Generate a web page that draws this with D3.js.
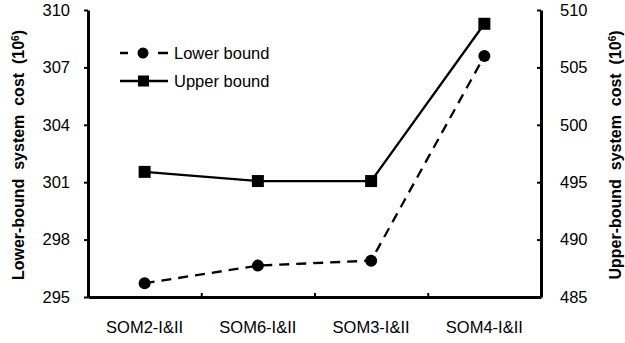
<!DOCTYPE html>
<html>
<head>
<meta charset="utf-8">
<script src="https://cdn.jsdelivr.net/npm/d3@7"></script>
<style>
  body { margin: 0; background: #fff; }
  svg { font-family: "Liberation Sans", Arial, sans-serif; }
</style>
</head>
<body>
<svg id="chart" width="625" height="343"></svg>
<script>
// data
const categories = ['SOM2-I&II', 'SOM6-I&II', 'SOM3-I&II', 'SOM4-I&II'];
const lowerBound = [295.72, 296.64, 296.9, 307.6];
const upperBound = [495.9, 495.1, 495.1, 508.8];
const leftTicks = [295, 298, 301, 304, 307, 310];
const rightTicks = [485, 490, 495, 500, 505, 510];

const svg = d3.select('#chart');
const M = { left: 88, right: 541, top: 10, bottom: 297 };

// SCALES
const x = d3.scaleBand().domain(categories).range([M.left, M.right]);
const yL = d3.scaleLinear().domain([295, 310]).range([M.bottom, M.top]);
const yR = d3.scaleLinear().domain([485, 510]).range([M.bottom, M.top]);
const cx = d => x(d) + x.bandwidth() / 2;

// AXES
const styleAxis = g => {
    g.select('.domain').attr('stroke', '#000').attr('stroke-width', 3);
    g.selectAll('.tick line').attr('stroke', '#000').attr('stroke-width', 2);
    g.selectAll('.tick text').attr('fill', '#000').style('font-size', '16.5px');
};

svg.append('g')
    .attr('transform', `translate(${M.left},0)`)
    .call(d3.axisLeft(yL).tickValues(leftTicks).tickSize(4).tickSizeOuter(0).tickPadding(14))
    .call(styleAxis)
    .attr('font-family', null);

svg.append('g')
    .attr('transform', `translate(${M.right},0)`)
    .call(d3.axisRight(yR).tickValues(rightTicks).tickSize(-4).tickSizeOuter(0).tickPadding(19))
    .call(styleAxis)
    .attr('font-family', null);

// bottom axis: ticks between categories, labels at centres
const bounds = categories.slice(1).map(c => x(c));
svg.append('g')
    .attr('transform', `translate(0,${M.bottom})`)
    .call(d3.axisBottom(d3.scaleLinear().domain([M.left, M.right]).range([M.left, M.right]))
        .tickValues(bounds).tickSize(-4).tickSizeOuter(0).tickFormat(''))
    .call(styleAxis);

svg.append('g')
    .selectAll('text')
    .data(categories)
    .join('text')
    .attr('x', d => cx(d))
    .attr('y', 333)
    .attr('text-anchor', 'middle')
    .style('font-size', '16.5px')
    .text(d => d);

// axis titles
const title = (xx, label) => {
    const txt = svg.append('text')
        .attr('transform', `translate(${xx},155) rotate(-90)`)
        .attr('text-anchor', 'middle')
        .style('font-size', '16px')
        .style('font-weight', 'bold')
        .style('white-space', 'pre')
        .attr('xml:space', 'preserve');
    txt.append('tspan').text(label + '  system  cost  (10');
    txt.append('tspan').attr('baseline-shift', 'super').style('font-size', '10px').text('6');
    txt.append('tspan').text(')');
};
title(24, 'Lower-bound');
title(621, 'Upper-bound');

// LINES
const lowerData = categories.map((c, i) => ({ c, v: lowerBound[i] }));
const upperData = categories.map((c, i) => ({ c, v: upperBound[i] }));

svg.append('path')
    .datum(lowerData)
    .attr('fill', 'none')
    .attr('stroke', '#000')
    .attr('stroke-width', 2.3)
    .attr('stroke-dasharray', '10,7')
    .attr('d', d3.line().x(d => cx(d.c)).y(d => yL(d.v)));

svg.append('path')
    .datum(upperData)
    .attr('fill', 'none')
    .attr('stroke', '#000')
    .attr('stroke-width', 2.3)
    .attr('d', d3.line().x(d => cx(d.c)).y(d => yR(d.v)));

svg.append('g')
    .selectAll('circle')
    .data(lowerData)
    .join('circle')
    .attr('cx', d => cx(d.c))
    .attr('cy', d => yL(d.v))
    .attr('r', 6)
    .attr('fill', '#000');

svg.append('g')
    .selectAll('rect')
    .data(upperData)
    .join('rect')
    .attr('x', d => cx(d.c) - 6)
    .attr('y', d => yR(d.v) - 6)
    .attr('width', 12)
    .attr('height', 12)
    .attr('fill', '#000');

// LEGEND
const lg = svg.append('g');
lg.append('line').attr('x1', 120).attr('x2', 168).attr('y1', 53).attr('y2', 53)
    .attr('stroke', '#000').attr('stroke-width', 2.3).attr('stroke-dasharray', '8,30,10');
lg.append('circle').attr('cx', 143).attr('cy', 53).attr('r', 5.5).attr('fill', '#000');
lg.append('text').attr('x', 174).attr('y', 59).style('font-size', '16.5px').text('Lower bound');

lg.append('line').attr('x1', 120).attr('x2', 168).attr('y1', 81).attr('y2', 81)
    .attr('stroke', '#000').attr('stroke-width', 2.3);
lg.append('rect').attr('x', 138).attr('y', 75.5).attr('width', 11).attr('height', 11).attr('fill', '#000');
lg.append('text').attr('x', 174).attr('y', 87).style('font-size', '16.5px').text('Upper bound');
</script>
</body>
</html>
